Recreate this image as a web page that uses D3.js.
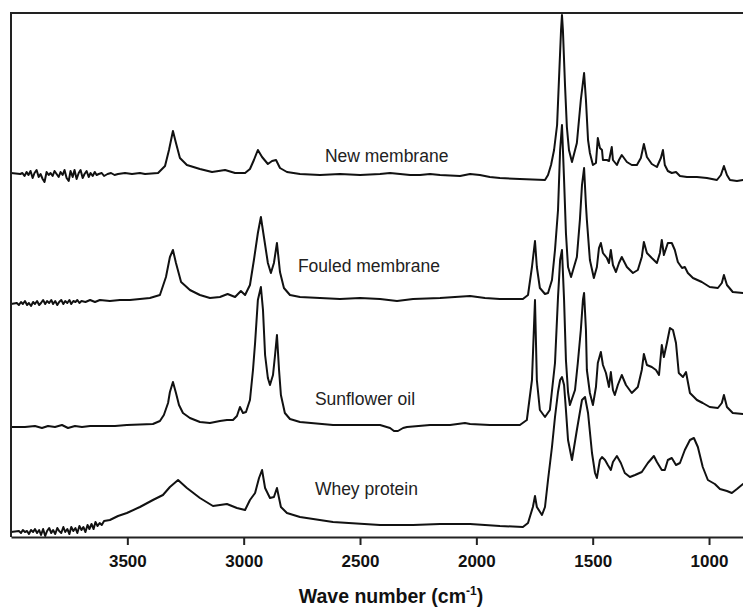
<!DOCTYPE html>
<html>
<head>
<meta charset="utf-8">
<script src="https://cdn.jsdelivr.net/npm/d3@7"></script>
<style>
  html, body { margin: 0; padding: 0; background: #fff; }
  svg { display: block; font-family: "Liberation Sans", Arial, Helvetica, sans-serif; }
</style>
</head>
<body>
<svg id="chart" width="743" height="609"></svg>
<script>
// FTIR spectra, [wavenumber (cm-1), absorbance (a.u.)], each trace relative to its own baseline
const newMembrane = [
  [4000,0.02],[3960,0.01],[3951,0.02],[3942,-0.01],[3933,0.03],[3925,0.00],[3916,0.04],[3907,-0.03],
  [3899,0.02],[3890,0.05],[3881,-0.02],[3873,0.01],[3864,-0.04],[3856,-0.07],[3847,0.03],[3838,0.00],
  [3830,0.02],[3821,-0.01],[3813,0.04],[3804,0.01],[3795,-0.02],[3787,0.03],[3778,0.00],[3770,0.05],
  [3761,-0.03],[3752,-0.06],[3744,0.04],[3735,-0.02],[3727,0.05],[3718,-0.04],[3709,0.02],[3701,0.05],
  [3692,-0.03],[3684,0.01],[3675,0.04],[3666,-0.02],[3658,0.02],[3649,-0.01],[3640,0.03],[3632,0.00],
  [3623,0.01],[3610,0.02],[3600,-0.01],[3585,0.01],[3570,0.02],[3555,0.00],[3540,0.01],[3510,0.02],
  [3480,0.01],[3446,0.02],[3424,0.01],[3368,0.02],[3338,0.09],[3321,0.25],[3304,0.44],
  [3291,0.32],[3274,0.17],[3244,0.10],[3188,0.06],[3136,0.03],[3080,0.05],[3037,0.02],[2994,0.02],
  [2973,0.06],[2956,0.15],[2939,0.25],[2921,0.18],[2896,0.11],[2878,0.14],[2861,0.15],[2844,0.07],
  [2814,0.03],[2758,0.01],[2672,0.00],[2586,0.01],[2500,0.00],[2414,0.01],[2371,0.02],[2328,0.01],
  [2285,0.00],[2242,0.00],[2199,0.01],[2156,0.00],[2070,-0.01],[2027,0.01],[1985,0.00],[1942,-0.02],
  [1899,-0.03],[1813,-0.04],[1705,-0.05],[1692,0.00],[1679,0.10],[1666,0.25],[1653,0.50],[1645,0.95],
  [1636,1.45],[1632,1.60],[1628,1.45],[1619,0.90],[1611,0.48],[1602,0.25],[1589,0.13],[1568,0.32],
  [1551,0.75],[1537,1.02],[1529,0.75],[1520,0.35],[1512,0.22],[1499,0.10],[1486,0.12],[1478,0.37],
  [1469,0.27],[1460,0.25],[1456,0.15],[1439,0.15],[1430,0.14],[1418,0.28],[1413,0.15],[1396,0.10],
  [1387,0.15],[1375,0.20],[1353,0.13],[1332,0.10],[1310,0.10],[1293,0.17],[1280,0.31],[1267,0.18],
  [1246,0.11],[1224,0.08],[1207,0.17],[1198,0.25],[1190,0.10],[1177,0.04],[1160,0.02],[1142,0.03],
  [1125,-0.01],[1095,-0.02],[1052,-0.02],[1009,-0.03],[966,-0.05],[949,0.00],[936,0.09],[923,0.00],
  [910,-0.05],[880,-0.06],[854,-0.05]
];

const fouledMembrane = [
  [4000,-0.02],[3975,-0.01],[3966,-0.03],[3957,0.00],[3949,-0.02],[3940,0.01],[3931,-0.03],[3923,-0.01],
  [3914,-0.04],[3905,0.00],[3897,-0.02],[3888,0.01],[3879,-0.03],[3871,-0.01],[3862,0.02],[3853,-0.02],
  [3845,0.01],[3836,-0.01],[3827,0.02],[3819,-0.02],[3810,0.01],[3801,-0.03],[3793,0.00],[3784,0.02],
  [3775,-0.02],[3767,0.01],[3758,-0.01],[3749,0.02],[3741,-0.02],[3732,0.01],[3723,0.00],[3715,0.02],
  [3706,-0.01],[3697,0.01],[3680,0.00],[3660,0.02],[3639,0.00],[3618,0.02],[3575,0.01],[3532,0.02],
  [3489,0.02],[3403,0.04],[3360,0.07],[3334,0.25],[3317,0.45],[3304,0.52],[3291,0.39],[3269,0.20],
  [3231,0.12],[3188,0.07],[3145,0.04],[3102,0.05],[3069,0.08],[3037,0.05],[3012,0.11],[2994,0.07],
  [2973,0.17],[2956,0.42],[2939,0.69],[2926,0.85],[2913,0.65],[2896,0.39],[2883,0.29],[2870,0.39],
  [2857,0.59],[2844,0.30],[2827,0.14],[2801,0.07],[2758,0.05],[2672,0.04],[2586,0.03],[2500,0.04],
  [2414,0.03],[2341,0.01],[2272,0.03],[2156,0.04],[2092,0.05],[2027,0.06],[1963,0.04],[1899,0.03],
  [1800,0.03],[1778,0.07],[1761,0.35],[1748,0.61],[1740,0.35],[1727,0.14],[1705,0.08],[1692,0.09],
  [1675,0.22],[1662,0.52],[1649,0.92],[1640,1.52],[1632,1.77],[1623,1.22],[1615,0.69],[1606,0.35],
  [1593,0.25],[1568,0.45],[1555,0.82],[1546,1.17],[1537,1.34],[1529,0.97],[1525,0.82],[1512,0.42],
  [1495,0.24],[1482,0.35],[1473,0.54],[1465,0.59],[1456,0.49],[1439,0.44],[1430,0.39],[1422,0.52],
  [1413,0.37],[1400,0.30],[1387,0.39],[1375,0.45],[1353,0.35],[1327,0.29],[1306,0.32],[1289,0.45],
  [1280,0.60],[1267,0.49],[1246,0.44],[1224,0.39],[1211,0.49],[1203,0.62],[1194,0.47],[1177,0.59],
  [1160,0.59],[1147,0.52],[1134,0.40],[1116,0.34],[1104,0.35],[1091,0.29],[1069,0.24],[1031,0.20],
  [997,0.15],[962,0.14],[945,0.19],[936,0.27],[923,0.17],[898,0.10],[854,0.09]
];

const sunflowerOil = [
  [4000,-0.01],[3940,-0.01],[3897,0.00],[3867,-0.02],[3841,0.00],[3811,-0.01],[3781,0.01],[3755,-0.02],
  [3725,0.00],[3695,-0.01],[3660,0.00],[3618,0.00],[3553,0.00],[3502,0.01],[3390,0.02],[3360,0.05],
  [3343,0.11],[3325,0.23],[3317,0.34],[3304,0.44],[3291,0.33],[3278,0.21],[3261,0.13],[3231,0.08],
  [3188,0.04],[3145,0.03],[3102,0.05],[3072,0.06],[3046,0.06],[3029,0.10],[3016,0.19],[3003,0.13],
  [2990,0.14],[2973,0.26],[2960,0.56],[2951,0.83],[2939,1.26],[2926,1.39],[2917,1.16],[2908,0.71],
  [2896,0.48],[2887,0.41],[2874,0.51],[2866,0.69],[2857,0.91],[2848,0.56],[2840,0.31],[2823,0.13],
  [2801,0.07],[2758,0.04],[2616,0.01],[2414,0.01],[2371,-0.02],[2354,-0.05],[2337,-0.05],[2315,-0.02],
  [2298,-0.01],[2199,0.01],[2113,0.01],[2049,0.03],[2027,0.02],[1942,0.01],[1813,0.01],[1783,0.06],
  [1761,0.46],[1748,1.26],[1740,0.46],[1727,0.16],[1705,0.09],[1684,0.16],[1662,0.63],[1649,1.29],
  [1640,1.66],[1632,1.76],[1623,1.26],[1615,0.66],[1606,0.34],[1598,0.21],[1576,0.36],[1564,0.63],
  [1551,0.96],[1542,1.26],[1537,1.33],[1529,0.96],[1525,0.56],[1512,0.33],[1499,0.21],[1486,0.39],
  [1478,0.63],[1465,0.74],[1456,0.61],[1443,0.53],[1430,0.39],[1422,0.54],[1413,0.36],[1405,0.31],
  [1392,0.41],[1375,0.51],[1357,0.41],[1332,0.33],[1306,0.39],[1289,0.56],[1280,0.72],[1267,0.61],
  [1246,0.59],[1228,0.56],[1215,0.51],[1203,0.81],[1194,0.69],[1181,0.83],[1168,0.98],[1155,0.96],
  [1142,0.83],[1130,0.53],[1112,0.49],[1099,0.54],[1082,0.33],[1052,0.26],[1027,0.23],[997,0.19],
  [962,0.18],[945,0.23],[936,0.31],[923,0.19],[898,0.13],[854,0.12]
];

const wheyProtein = [
  [4000,-0.01],[3966,0.00],[3957,-0.02],[3949,0.01],[3940,-0.01],[3931,0.00],[3923,-0.03],[3914,0.01],
  [3905,-0.01],[3897,0.02],[3888,-0.02],[3879,0.01],[3871,-0.04],[3862,0.02],[3853,-0.05],[3845,0.00],
  [3836,0.03],[3827,-0.02],[3819,0.01],[3810,-0.03],[3801,0.03],[3793,0.00],[3784,-0.02],[3775,0.04],
  [3767,-0.01],[3758,0.02],[3749,-0.03],[3741,0.04],[3732,0.00],[3723,0.03],[3715,-0.02],[3706,0.05],
  [3697,0.01],[3689,0.04],[3680,-0.01],[3671,0.06],[3663,0.02],[3654,0.07],[3645,0.02],[3637,0.09],
  [3628,0.05],[3619,0.08],[3610,0.06],[3600,0.10],[3575,0.11],[3540,0.15],
  [3502,0.18],[3446,0.24],[3390,0.31],[3347,0.36],[3317,0.44],[3282,0.51],[3244,0.43],[3188,0.33],
  [3132,0.25],[3102,0.26],[3072,0.27],[3029,0.23],[2994,0.21],[2973,0.31],[2951,0.38],[2934,0.53],
  [2921,0.61],[2908,0.43],[2887,0.33],[2870,0.34],[2857,0.43],[2840,0.24],[2814,0.18],[2758,0.14],
  [2616,0.09],[2414,0.06],[2272,0.06],[2156,0.07],[2027,0.07],[1899,0.05],[1800,0.04],[1778,0.08],
  [1757,0.24],[1748,0.35],[1740,0.24],[1718,0.16],[1705,0.24],[1692,0.51],[1675,0.84],[1662,1.14],
  [1649,1.39],[1640,1.51],[1632,1.54],[1623,1.46],[1615,1.21],[1606,0.91],[1589,0.71],[1568,1.01],
  [1546,1.31],[1533,1.34],[1520,1.18],[1503,0.78],[1490,0.58],[1482,0.53],[1469,0.71],[1460,0.74],
  [1447,0.71],[1435,0.66],[1422,0.61],[1413,0.69],[1396,0.75],[1379,0.68],[1362,0.58],[1340,0.54],
  [1318,0.56],[1289,0.59],[1263,0.68],[1237,0.75],[1224,0.69],[1203,0.61],[1190,0.61],[1177,0.71],
  [1160,0.73],[1142,0.66],[1125,0.68],[1104,0.81],[1082,0.91],[1065,0.93],[1048,0.84],[1027,0.64],
  [1005,0.51],[975,0.47],[953,0.42],[923,0.40],[902,0.38],[880,0.42],[854,0.47]
];

const seriesData = [newMembrane, fouledMembrane, sunflowerOil, wheyProtein];
const seriesNames = ["New membrane", "Fouled membrane", "Sunflower oil", "Whey protein"];
const seriesOffsets = [3.62, 2.35, 1.11, 0.06];
const xTickValues = [3500, 3000, 2500, 2000, 1500, 1000];

// Label anchors: [wavenumber, height above the trace baseline]
const labelAnchors = [[2651, 0.13], [2767, 0.30], [2694, 0.215], [2694, 0.36]];

const svg = d3.select("#chart");
const plot = { left: 11, top: 13, right: 743, bottom: 537 };

const x = d3.scaleLinear().domain([4000, 854]).range([plot.left, plot.right]);
const y = d3.scaleLinear().domain([0, 5.24]).range([plot.bottom, plot.top]);

const line = d3.line()
  .x(d => x(d[0]))
  .y(d => y(d[1]));

// spectra
seriesData.forEach((pts, i) => {
  svg.append("path")
    .datum(pts.map(p => [p[0], p[1] + seriesOffsets[i]]))
    .attr("fill", "none")
    .attr("stroke", "#111")
    .attr("stroke-width", 2)
    .attr("stroke-linejoin", "round")
    .attr("stroke-linecap", "round")
    .attr("d", line);
});

// series labels
seriesNames.forEach((name, i) => {
  svg.append("text")
    .attr("x", x(labelAnchors[i][0]))
    .attr("y", y(seriesOffsets[i] + labelAnchors[i][1]))
    .attr("font-size", 17.5)
    .attr("fill", "#222")
    .text(name);
});

// frame: left and top edges
svg.append("line")
  .attr("x1", plot.left).attr("x2", plot.left)
  .attr("y1", plot.top - 1).attr("y2", plot.bottom)
  .attr("stroke", "#222").attr("stroke-width", 2);
svg.append("line")
  .attr("x1", plot.left).attr("x2", plot.right)
  .attr("y1", plot.top).attr("y2", plot.top)
  .attr("stroke", "#222").attr("stroke-width", 2);

// x axis
const xAxis = d3.axisBottom(x)
  .tickValues(xTickValues)
  .tickSize(8)
  .tickSizeOuter(0)
  .tickPadding(10)
  .tickFormat(d3.format("d"));

const gx = svg.append("g")
  .attr("transform", `translate(0,${plot.bottom})`)
  .call(xAxis);
gx.select(".domain").attr("stroke", "#222").attr("stroke-width", 2);
gx.selectAll(".tick line").attr("stroke", "#222").attr("stroke-width", 2);
gx.selectAll(".tick text")
  .attr("font-family", "'Liberation Sans', Arial, sans-serif")
  .attr("font-size", 17)
  .attr("font-weight", "bold")
  .attr("fill", "#111");

// axis title
const title = svg.append("text")
  .attr("x", 391)
  .attr("y", 603)
  .attr("text-anchor", "middle")
  .attr("font-size", 19.5)
  .attr("font-weight", "bold")
  .attr("fill", "#111");
title.append("tspan").text("Wave number (cm");
title.append("tspan").attr("dy", -8).attr("font-size", 12).text("-1");
title.append("tspan").attr("dy", 8).text(")");
</script>
</body>
</html>
